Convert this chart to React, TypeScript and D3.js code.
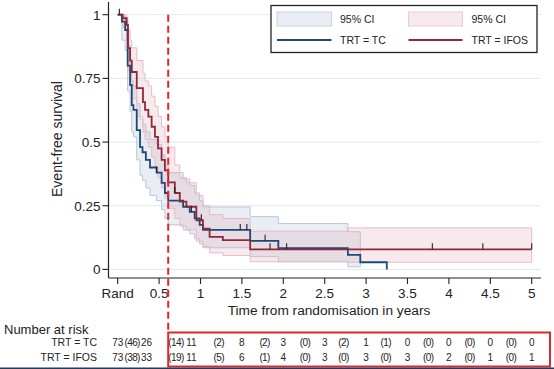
import * as d3 from 'd3';
import React from 'react';

// Kaplan-Meier estimates
const tcTime = [0, 0.05, 0.09, 0.12, 0.15, 0.17, 0.19, 0.23, 0.27, 0.3, 0.34, 0.39, 0.47, 0.53, 0.57, 0.61, 0.79, 0.87, 0.93, 0.99, 1.03, 1.6, 1.94, 2.78, 2.93, 3.25];
const tcSurv = [1, 0.973, 0.94, 0.8, 0.724, 0.645, 0.626, 0.547, 0.48, 0.46, 0.43, 0.4, 0.38, 0.34, 0.3, 0.27, 0.246, 0.226, 0.2, 0.175, 0.155, 0.112, 0.083, 0.057, 0.028, 0];
const tcLo = [1, 0.9, 0.86, 0.7, 0.62, 0.54, 0.52, 0.43, 0.37, 0.35, 0.32, 0.29, 0.27, 0.235, 0.2, 0.175, 0.155, 0.14, 0.12, 0.1, 0.085, 0.05, 0.03, 0.01];
const tcHi = [1, 0.995, 0.98, 0.88, 0.81, 0.74, 0.72, 0.65, 0.59, 0.57, 0.54, 0.51, 0.49, 0.45, 0.41, 0.38, 0.355, 0.33, 0.3, 0.27, 0.245, 0.207, 0.18, 0.148];
const tcCensor = [0.02, 0.47, 0.89, 1.48, 1.56, 1.78];

const ifTime = [0, 0.06, 0.108, 0.124, 0.15, 0.17, 0.23, 0.305, 0.33, 0.37, 0.41, 0.45, 0.487, 0.53, 0.57, 0.61, 0.69, 0.75, 0.83, 0.95, 1.03, 1.11, 1.27, 1.6, 2.78];
const ifSurv = [1, 0.986, 0.96, 0.869, 0.82, 0.775, 0.712, 0.657, 0.626, 0.6, 0.56, 0.52, 0.475, 0.43, 0.389, 0.342, 0.3, 0.266, 0.246, 0.193, 0.16, 0.128, 0.115, 0.079, 0.079];
const ifLo = [1, 0.95, 0.9, 0.78, 0.72, 0.67, 0.6, 0.54, 0.51, 0.48, 0.44, 0.4, 0.36, 0.32, 0.28, 0.24, 0.2, 0.17, 0.155, 0.11, 0.09, 0.065, 0.055, 0.03, 0.028];
const ifHi = [1, 1, 0.99, 0.94, 0.9, 0.87, 0.82, 0.77, 0.74, 0.72, 0.68, 0.64, 0.6, 0.56, 0.52, 0.48, 0.41, 0.36, 0.34, 0.29, 0.25, 0.215, 0.2, 0.15, 0.163];
const ifCensor = [0.69, 1.01, 1.84, 2.04, 3.8, 4.41, 5];

const tcCiEnd = 2.93;
const ifEnd = 5;

// number at risk table
const riskTimes = [0, 0.5, 1, 1.5, 2, 2.5, 3, 3.5, 4, 4.5, 5];
const tcRisk = [73, 26, 11, 8, 3, 3, 1, 0, 0, 0, 0];
const tcEvents = [46, 14, 2, 2, 0, 2, 1, 0, 0, 0];
const ifRisk = [73, 33, 11, 6, 4, 3, 3, 3, 2, 1, 1];
const ifEvents = [38, 19, 5, 1, 0, 0, 0, 0, 0, 0];

const xTicks = [0, 0.5, 1, 1.5, 2, 2.5, 3, 3.5, 4, 4.5, 5];
const xTickLabels = ['Rand', '0.5', '1', '1.5', '2', '2.5', '3', '3.5', '4', '4.5', '5'];
const yTicks = [0, 0.25, 0.5, 0.75, 1];
const yTickLabels = ['0', '0.25', '0.5', '0.75', '1'];
const cutTime = 0.61;

const FONT = 'Liberation Sans, Arial, sans-serif';
const BLUE = '#1d4a78';
const RED = '#8e2a38';

export default function App() {
  const x = d3.scaleLinear().domain([0, 5]).range([117.7, 531.7]);
  const y = d3.scaleLinear().domain([0, 1]).range([269.4, 14.7]);

  const plotL = 108.5, plotR = 541, plotB = 278, plotT = 2;

  const line = d3.line<[number, number]>()
    .x(d => x(d[0]))
    .y(d => y(d[1]))
    .curve(d3.curveStepAfter);

  const area = d3.area<[number, number, number]>()
    .x(d => x(d[0]))
    .y0(d => y(d[1]))
    .y1(d => y(d[2]))
    .curve(d3.curveStepAfter);

  const tcPts: [number, number][] = tcTime.map((t, i) => [t, tcSurv[i]]);
  const ifPts: [number, number][] = ifTime.map((t, i) => [t, ifSurv[i]]);
  ifPts.push([ifEnd, ifSurv[ifSurv.length - 1]]);

  const tcBand: [number, number, number][] = tcLo.map((lo, i) => [tcTime[i], lo, tcHi[i]]);
  tcBand.push([tcCiEnd, tcLo[tcLo.length - 1], tcHi[tcHi.length - 1]]);
  const ifBand: [number, number, number][] = ifLo.map((lo, i) => [ifTime[i], lo, ifHi[i]]);
  ifBand.push([ifEnd, ifLo[ifLo.length - 1], ifHi[ifHi.length - 1]]);

  // survival value at time t for censor marks
  const survAt = (times: number[], surv: number[], t: number) => {
    const i = d3.bisectRight(times, t) - 1;
    return surv[Math.max(0, i)];
  };

  // crowded labels near the start of the table
  const numNudge = [0, -12.5, -9, 0, 0, 0, 0, 0, 0, 0, 0];
  const parNudge = [0, 7, 2, 2, 1, -2, -1, 0, 0, 0];
  const numX = riskTimes.map((t, i) => x(t) + numNudge[i]);
  const parX = tcEvents.map((_, i) => (numX[i] + numX[i + 1]) / 2 + parNudge[i]);

  const row = (label: string, risk: number[], events: number[], yy: number) => (
    <g fontSize={10} fill="#222">
      <text x={97} y={yy} textAnchor="end" fontSize={10.5}>{label}</text>
      {risk.map((n, i) => (
        <text key={'n' + i} x={numX[i]} y={yy} textAnchor="middle">{n}</text>
      ))}
      {events.map((n, i) => (
        <text key={'p' + i} x={parX[i]} y={yy} textAnchor="middle" letterSpacing={-0.6}>({n})</text>
      ))}
    </g>
  );

  return (
    <svg width={554} height={369} style={{ position: 'absolute', left: 0, top: 0, background: '#fff' }} fontFamily={FONT}>
      {/* gridlines */}
      {yTicks.map(v => (
        <line key={v} x1={plotL} x2={plotR} y1={y(v)} y2={y(v)} stroke="#dfeaef" strokeWidth={1} />
      ))}

      {/* confidence bands */}
      <path d={area(tcBand) ?? ''} fill="#b6c3d9" fillOpacity={0.3} stroke="#b9c6da" strokeWidth={1} />
      <path d={area(ifBand) ?? ''} fill="#e2a9b4" fillOpacity={0.25} stroke="#e6bcc4" strokeWidth={1} />

      {/* survival curves */}
      <path d={line(tcPts) ?? ''} fill="none" stroke={BLUE} strokeWidth={1.8} />
      <path d={line(ifPts) ?? ''} fill="none" stroke={RED} strokeWidth={1.8} />

      {/* censoring marks */}
      {tcCensor.map(t => {
        const yy = y(survAt(tcTime, tcSurv, t));
        return <line key={'tc' + t} x1={x(t)} x2={x(t)} y1={yy} y2={yy - 6} stroke="#222" strokeWidth={1.1} />;
      })}
      {ifCensor.map(t => {
        const yy = y(survAt(ifTime, ifSurv, t));
        return <line key={'if' + t} x1={x(t)} x2={x(t)} y1={yy} y2={yy - 6} stroke="#222" strokeWidth={1.1} />;
      })}

      {/* axes */}
      <line x1={plotL} x2={plotL} y1={plotT} y2={plotB} stroke="#222" strokeWidth={1.2} />
      <line x1={plotL} x2={plotR} y1={plotB} y2={plotB} stroke="#222" strokeWidth={1.2} />
      {yTicks.map((v, i) => (
        <g key={'yt' + v}>
          <line x1={plotL - 6} x2={plotL} y1={y(v)} y2={y(v)} stroke="#222" strokeWidth={1.1} />
          <text x={plotL - 8} y={y(v) + 5} textAnchor="end" fontSize={13.5} fill="#222">{yTickLabels[i]}</text>
        </g>
      ))}
      {xTicks.map((v, i) => (
        <g key={'xt' + v}>
          <line x1={x(v)} x2={x(v)} y1={plotB} y2={plotB + 6} stroke="#222" strokeWidth={1.1} />
          <text x={x(v)} y={298} textAnchor="middle" fontSize={13.5} fill="#222">{xTickLabels[i]}</text>
        </g>
      ))}
      <text x={329} y={315} textAnchor="middle" fontSize={13.7} fill="#222">Time from randomisation in years</text>
      <text transform="translate(62,139) rotate(-90)" textAnchor="middle" fontSize={14} fill="#222">Event-free survival</text>

      {/* legend */}
      <rect x={271} y={5.5} width={266} height={47} fill="#fff" stroke="#222" strokeWidth={1.3} />
      <rect x={277} y={12} width={54.5} height={14} fill="#b6c3d9" fillOpacity={0.3} stroke="#c6d1e1" strokeWidth={1} />
      <rect x={408.5} y={12} width={54} height={14} fill="#e2a9b4" fillOpacity={0.25} stroke="#eccbd1" strokeWidth={1} />
      <line x1={277} x2={331.5} y1={40} y2={40} stroke={BLUE} strokeWidth={1.8} />
      <line x1={408.5} x2={462.5} y1={40} y2={40} stroke={RED} strokeWidth={1.8} />
      <g fontSize={10.5} fill="#222">
        <text x={340} y={22.5}>95% CI</text>
        <text x={471.5} y={22.5}>95% CI</text>
        <text x={340} y={44}>TRT = TC</text>
        <text x={471.5} y={44}>TRT = IFOS</text>
      </g>

      {/* number at risk */}
      <text x={4} y={334} fontSize={13} fill="#222">Number at risk</text>
      {row('TRT = TC', tcRisk, tcEvents, 345.5)}
      {row('TRT = IFOS', ifRisk, ifEvents, 360.5)}

      {/* highlight annotations */}
      <line x1={x(cutTime)} x2={x(cutTime)} y1={14.7} y2={333} stroke="#e8242b" strokeWidth={2} strokeDasharray="7 4" />
      <rect x={x(cutTime)} y={332.5} width={550 - x(cutTime)} height={34} fill="none" stroke="#e2262b" strokeWidth={2} />
      <line x1={0} x2={554} y1={368.3} y2={368.3} stroke="#1f3a5f" strokeWidth={1.5} />
    </svg>
  );
}
